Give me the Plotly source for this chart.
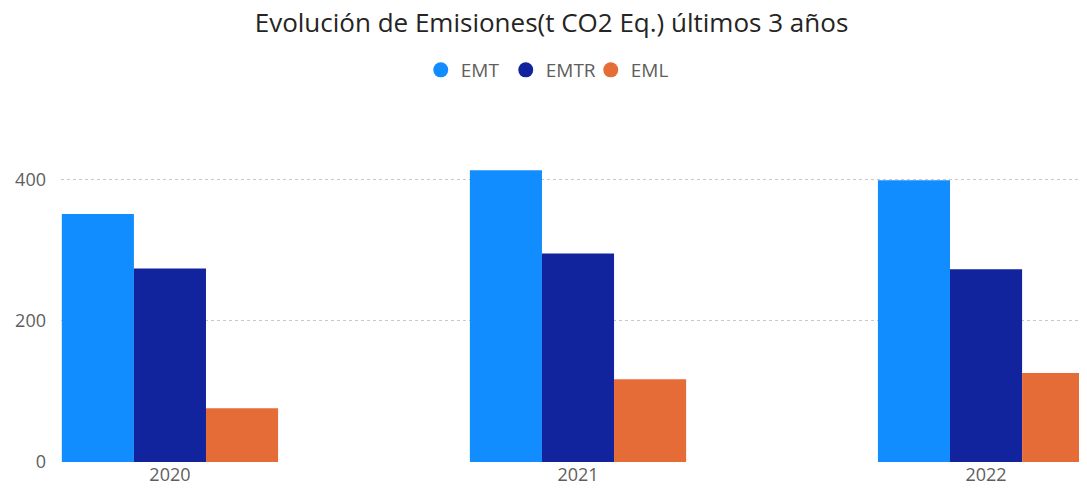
import plotly.graph_objects as go

years = ["2020", "2021", "2022"]
series_names = ["EMT", "EMTR", "EML"]
emt = [351, 413, 399]
emtr = [274, 295, 273]
eml = [76, 117, 126]
colors = ["#118DFF", "#12239E", "#E66C37"]
y_ticks = [0, 200, 400]

fig = go.Figure()
for name, vals, c in zip(series_names, [emt, emtr, eml], colors):
    fig.add_trace(go.Bar(x=years, y=vals, name=name, marker_color=c,
                         marker_line_width=0, showlegend=False))
for name, c in zip(series_names, colors):
    fig.add_trace(go.Scatter(x=[None], y=[None], mode="markers", name=name,
                             marker=dict(symbol="circle", size=15, color=c)))

fig.update_layout(
    width=1087, height=494,
    margin=dict(l=53, r=0, t=122, b=40, autoexpand=False),
    paper_bgcolor="white", plot_bgcolor="white",
    barmode="group", bargap=0.47, bargroupgap=0,
    font=dict(family="Open Sans", color="#605E5C"),
    title=dict(text="Evolución de Emisiones(t CO2 Eq.) últimos 3 años",
               x=0.5, xanchor="center", y=1 - 15 / 494, yanchor="middle",
               font=dict(size=26, color="#252423", family="Open Sans")),
    legend=dict(orientation="h", xref="container", x=0.497, xanchor="center",
                yref="container", y=1 - 62 / 494, yanchor="middle",
                font=dict(size=19, color="#605E5C"), itemwidth=30,
                entrywidth=40, itemclick=False),
    xaxis=dict(type="category", range=[-0.267, 2.267], showgrid=False,
               showline=False, ticks="", automargin=False,
               tickfont=dict(size=18, color="#605E5C")),
    yaxis=dict(range=[0, 470], tickvals=y_ticks, showgrid=True, gridcolor="#C8C8C8",
               griddash="dot", gridwidth=1, zeroline=False, showline=False,
               automargin=False,
               tickfont=dict(size=18, color="#605E5C"), ticklabelstandoff=14),
)

fig.write_html("out.html")
